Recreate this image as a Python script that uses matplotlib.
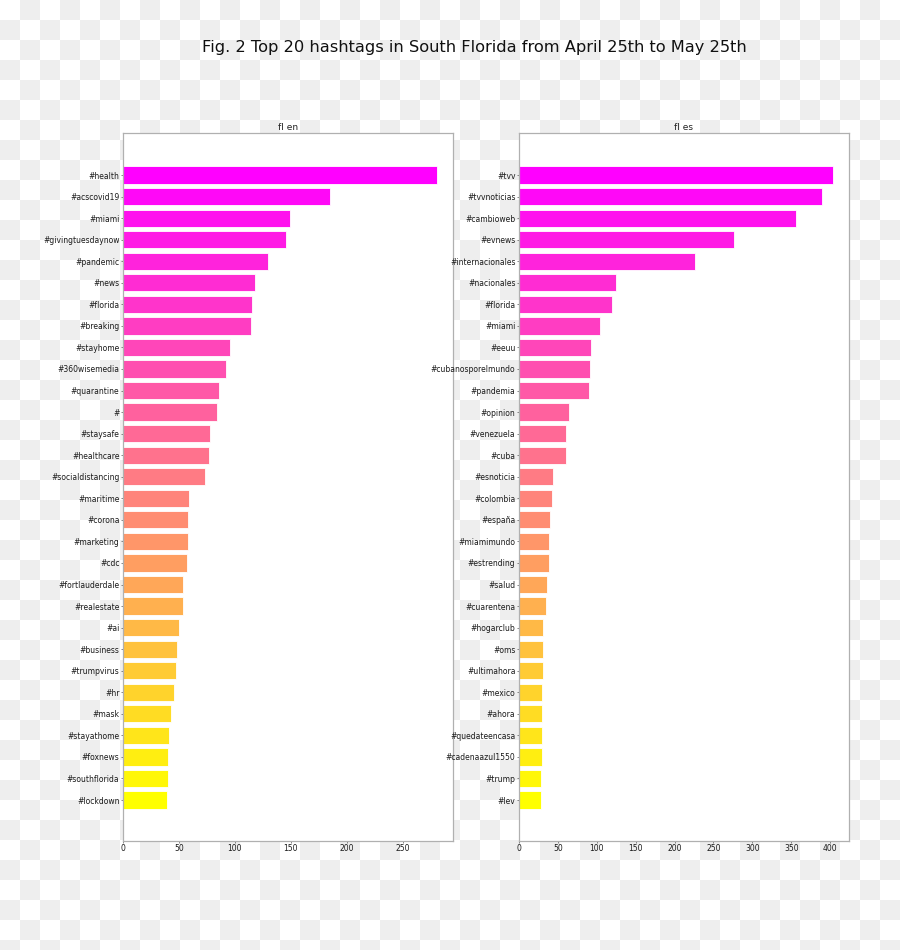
import numpy as np
import matplotlib
matplotlib.use("Agg")
import matplotlib.pyplot as plt

# hashtag counts, fl en (english tweets)
en_tags = ["#health", "#acscovid19", "#miami", "#givingtuesdaynow", "#pandemic",
           "#news", "#florida", "#breaking", "#stayhome", "#360wisemedia",
           "#quarantine", "#", "#staysafe", "#healthcare", "#socialdistancing",
           "#maritime", "#corona", "#marketing", "#cdc", "#fortlauderdale",
           "#realestate", "#ai", "#business", "#trumpvirus", "#hr",
           "#mask", "#stayathome", "#foxnews", "#southflorida", "#lockdown"]
en_counts = [281, 185, 149, 146, 130, 118, 115, 114, 96, 92,
             86, 84, 78, 77, 73, 59, 58, 58, 57, 54,
             54, 50, 48, 47, 46, 43, 41, 40, 40, 39]

# hashtag counts, fl es (spanish tweets)
es_tags = ["#tvv", "#tvvnoticias", "#cambioweb", "#evnews", "#internacionales",
           "#nacionales", "#florida", "#miami", "#eeuu", "#cubanosporelmundo",
           "#pandemia", "#opinion", "#venezuela", "#cuba", "#esnoticia",
           "#colombia", "#españa", "#miamimundo", "#estrending", "#salud",
           "#cuarentena", "#hogarclub", "#oms", "#ultimahora", "#mexico",
           "#ahora", "#quedateencasa", "#cadenaazul1550", "#trump", "#lev"]
es_counts = [404, 389, 356, 276, 226, 125, 119, 104, 92, 91,
             90, 64, 61, 60, 44, 43, 40, 39, 38, 36,
             35, 31, 31, 31, 30, 30, 29, 29, 28, 28]

panels = [("fl en", en_tags, en_counts), ("fl es", es_tags, es_counts)]

fig = plt.figure(figsize=(9, 9.5), dpi=100)
fig.patch.set_alpha(0)

# transparent-background checkerboard as it shows in the reference
W, H, cell = 900, 950, 20
yy, xx = np.mgrid[0:H, 0:W]
board = np.where(((xx // cell) + (yy // cell)) % 2 == 1, 0.937, 1.0)
fig.figimage(np.dstack([board] * 3), xo=0, yo=0, origin="upper", zorder=-10)

fig.suptitle("Fig. 2 Top 20 hashtags in South Florida from April 25th to May 25th",
             fontsize=11.7, x=0.527, y=0.958, color="#111111")

lefts = [123 / 900, 519 / 900]
for left, (name, tags, counts) in zip(lefts, panels):
    ax = fig.add_axes([left, 109 / 950, 330 / 900, 708 / 950])
    ax.set_facecolor("white")
    pos = np.arange(len(tags))
    colors = plt.cm.spring(np.linspace(0, 1, len(tags)))
    ax.barh(pos, counts, height=0.8, color=colors, edgecolor="white", linewidth=0.6)
    ax.set_yticks(pos)
    ax.set_yticklabels(tags)
    ax.set_ylim(30.9, -1.95)
    ax.set_xlim(0, max(counts) * 1.05)
    ax.set_title(name, fontsize=6.5, pad=2, color="#222222")
    ax.tick_params(labelsize=5.5, length=1.5, width=0.5, color="#555555",
                   labelcolor="#1a1a1a", pad=1)
    for s in ax.spines.values():
        s.set_color("#b0b0b0")
        s.set_linewidth(0.9)

fig.savefig("out.png", dpi=100)
